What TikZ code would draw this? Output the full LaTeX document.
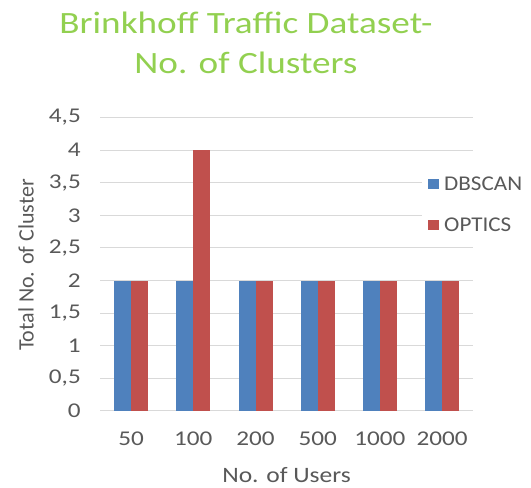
\documentclass[tikz,border=0pt]{standalone}
\usepackage{fontspec}
\setmainfont{Carlito}

\definecolor{dbscanblue}{HTML}{4F81BD}
\definecolor{opticsred}{HTML}{C0504D}
\definecolor{titlegreen}{HTML}{92D050}
\definecolor{gridgray}{HTML}{D9D9D9}
\definecolor{labelgray}{HTML}{595959}

\begin{document}
\begin{tikzpicture}[x=1pt,y=1pt,
    ticklabel/.style={text=labelgray,font=\fontsize{21}{24}\selectfont,inner sep=0pt,xscale=1.2},
    legendlabel/.style={text=labelgray,font=\fontsize{21}{24}\selectfont,inner sep=0pt,xscale=1.1},
    axistitle/.style={text=labelgray,font=\fontsize{22}{26}\selectfont,inner sep=0pt},
    charttitle/.style={text=titlegreen,font=\fontsize{31}{36}\selectfont,inner sep=0pt,xscale=1.2},
    gridline/.style={gridgray,line width=1pt},
    bar/.style={draw=none}]

    \useasboundingbox (0,0) rectangle (531,488);

    % Размеры
    \def\X{100}   % левый край области построения
    \def\Y{77}    % уровень нуля
    \def\W{62.2}  % ширина категории
    \def\U{65.2}  % высота единицы по оси y
    \def\B{17}    % ширина столбца

    % Заголовок
    \node[charttitle] (title1) at (246,465) {Brinkhoff Traffic Dataset-};
    \node[charttitle] (title2) at (246,425) {No. of Clusters};

    % Сетка и подписи оси y
    \foreach \v/\txt in {0/0,0.5/{0,5},1/1,1.5/{1,5},2/2,2.5/{2,5},3/3,3.5/{3,5},4/4,4.5/{4,5}} {
        \draw[gridline] (\X,\Y+\v*\U) -- (\X+6*\W,\Y+\v*\U);
        \node[ticklabel,anchor=east] (ytick\v) at (\X-19,\Y+\v*\U) {\txt};
    }

    % Столбцы
    \foreach \i/\lab/\d/\o in {0/50/2/2,1/100/2/4,2/200/2/2,3/500/2/2,4/1000/2/2,5/2000/2/2} {
        \fill[bar,dbscanblue] (\X+\W*\i+\W/2-\B,\Y) rectangle (\X+\W*\i+\W/2,\Y+\d*\U);
        \fill[bar,opticsred] (\X+\W*\i+\W/2,\Y) rectangle (\X+\W*\i+\W/2+\B,\Y+\o*\U);
        \node[ticklabel] (xtick\i) at (\X+\W*\i+\W/2,49) {\lab};
    }

    % Подписи осей
    \node[axistitle,xscale=1.16] (xtitle) at (\X+3*\W,13) {No. of Users};
    \node[axistitle,rotate=90] (ytitle) at (26,223) {Total No. of Cluster};

    % Легенда
    \fill[white] (422,250) rectangle (531,316);
    \fill[dbscanblue] (428,299) rectangle (439,309);
    \node[legendlabel,anchor=west] (legdbscan) at (444,304) {DBSCAN};
    \fill[opticsred] (428,258) rectangle (439,268);
    \node[legendlabel,anchor=west] (legoptics) at (444,263) {OPTICS};

\end{tikzpicture}
\end{document}
